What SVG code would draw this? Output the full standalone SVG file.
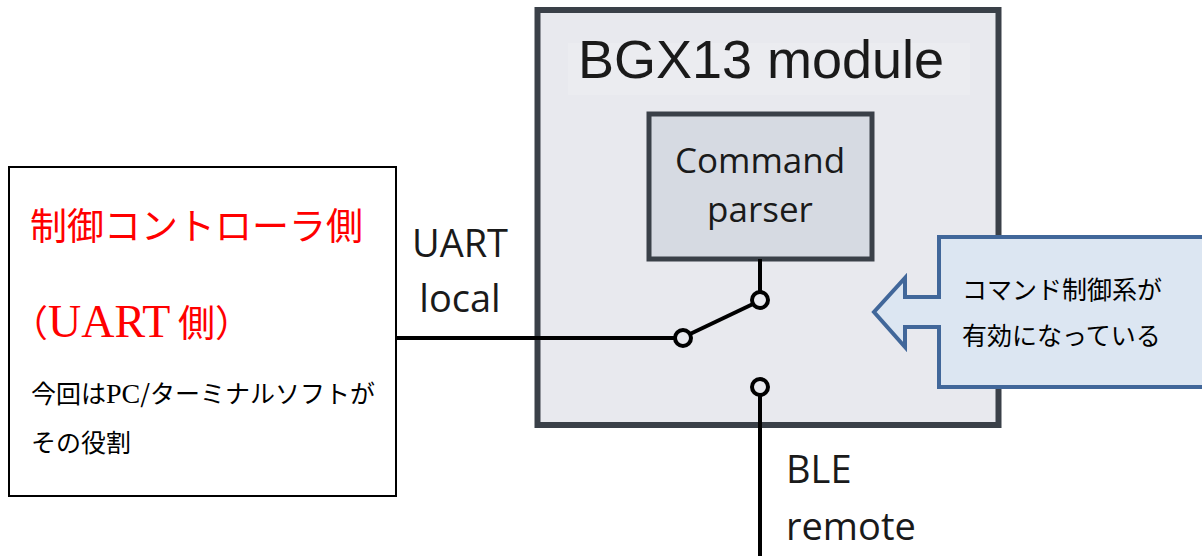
<svg xmlns="http://www.w3.org/2000/svg" width="1202" height="556" viewBox="0 0 1202 556">
<style>
.sans{font-family:"Open Sans","Noto Sans","Liberation Sans",sans-serif;fill:#1a1a1a}
.jp{font-family:"Noto Sans CJK JP","Noto Sans",sans-serif}
.serif{font-family:"Liberation Serif","Noto Sans CJK JP",serif}
.wire{stroke:#000;stroke-width:4;fill:none}
.term{stroke:#000;stroke-width:4;fill:#e8e9ee}
</style>
<rect width="1202" height="556" fill="#fff"/>
<g id="controller">
<rect x="9" y="167" width="387" height="329" fill="#fff" stroke="#000" stroke-width="2"/>
<text class="jp" x="30" y="240" font-size="37" fill="#f00">制御コントローラ側</text>
<text class="jp" x="11" y="337" font-size="37" fill="#f00">（<tspan class="serif" font-size="46">UART</tspan><tspan x="178">側</tspan><tspan x="215">）</tspan></text>
<text class="jp" x="31" y="403" font-size="25" fill="#000">今回は<tspan class="serif" font-size="28">PC</tspan>/ターミナルソフトが</text>
<text class="jp" x="31" y="452" font-size="25" fill="#000">その役割</text>
</g>
<g id="module">
<rect x="537.5" y="10" width="461" height="415" fill="#e8e9ee" stroke="#3a4048" stroke-width="6"/>
<rect x="568" y="43" width="402" height="52" fill="#ebecf0"/>
<text class="sans" x="761" y="78" font-size="54" text-anchor="middle" style="font-family:'Liberation Sans',Arial,sans-serif">BGX13 module</text>
</g>
<g id="parser">
<rect x="649" y="114" width="223" height="145" fill="#d6dae2" stroke="#3a4048" stroke-width="5"/>
<text class="sans" x="760" y="173" font-size="35" text-anchor="middle">Command</text>
<text class="sans" x="760" y="222" font-size="35" text-anchor="middle">parser</text>
</g>
<g id="connectors">
<line class="wire" x1="396" y1="338" x2="675" y2="338"/>
<line class="wire" x1="760" y1="259" x2="760" y2="292"/>
<line class="wire" x1="690" y1="334" x2="753" y2="304"/>
<line class="wire" x1="760" y1="395" x2="760" y2="556"/>
<circle class="term" cx="760" cy="300" r="8"/>
<circle class="term" cx="683" cy="338" r="8"/>
<circle class="term" cx="760" cy="387" r="8"/>
</g>
<g id="labels">
<text class="sans" x="460" y="257" font-size="38" text-anchor="middle">UART</text>
<text class="sans" x="460" y="312" font-size="38" text-anchor="middle">local</text>
<text class="sans" x="786" y="483" font-size="38">BLE</text>
<text class="sans" x="786" y="540" font-size="38">remote</text>
</g>
<g id="callout">
<path d="M939,237 H1206 V387 H939 V327 H905 V347 L874,312 L905,278 V297 H939 Z" fill="#dce6f2" stroke="#41679a" stroke-width="4" stroke-linejoin="miter"/>
<text class="jp" x="962" y="299" font-size="25" fill="#000">コマンド制御系が</text>
<text class="jp" x="962" y="345" font-size="25" fill="#000">有効になっている</text>
</g>
</svg>
